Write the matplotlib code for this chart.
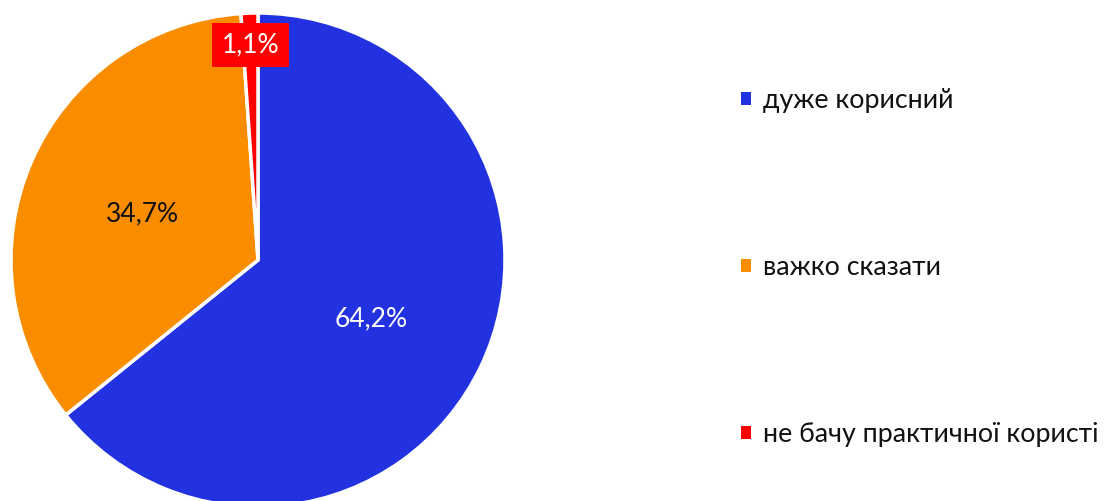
import matplotlib
matplotlib.use("Agg")
import matplotlib.pyplot as plt

categories = ["дуже корисний", "важко сказати", "не бачу практичної користі"]
values = [64.2, 34.7, 1.1]
colors = ["#2232E0", "#FA8C00", "#FF0000"]
label_colors = ["white", "#111111", "white"]

plt.rcParams['font.family'] = ['Lato', 'DejaVu Sans']

W, H = 1105, 501
fig = plt.figure(figsize=(W / 100, H / 100), dpi=100)
cx, cy, r = 258, 260, 247
ax = fig.add_axes([(cx - r) / W, (H - cy - r) / H, 2 * r / W, 2 * r / H])

wedges, texts, autotexts = ax.pie(
    values, colors=colors, startangle=90, counterclock=False,
    autopct=lambda p: f"{p:.1f}%".replace(".", ","), pctdistance=0.51,
    wedgeprops=dict(edgecolor="white", linewidth=2.5),
    textprops=dict(fontsize=19))
for t, c in zip(autotexts, label_colors):
    t.set_color(c)
for i in (0, 1):
    x0, y0 = autotexts[i].get_position()
    autotexts[i].set_position((x0, y0 - 0.018))
# small slice label placed outside, on red box
autotexts[2].set_position((-0.03, 0.87))
autotexts[2].set_bbox(dict(facecolor="#FF0000", edgecolor="none", pad=7))
ax.set_xlim(-1, 1)
ax.set_ylim(-1, 1)
ax.set_aspect("equal")
ax.axis("off")

leg = fig.legend(wedges, categories, loc="upper left",
                 bbox_to_anchor=(717 / W, 1 - 64 / H), frameon=False,
                 fontsize=19.3, handlelength=0.38, handleheight=0.38,
                 handletextpad=0.42, labelspacing=5.3)
for h in leg.legend_handles:
    h.set_edgecolor("none")
for t in leg.get_texts():
    t.set_color("#111111")

fig.savefig("out.png", dpi=100)
